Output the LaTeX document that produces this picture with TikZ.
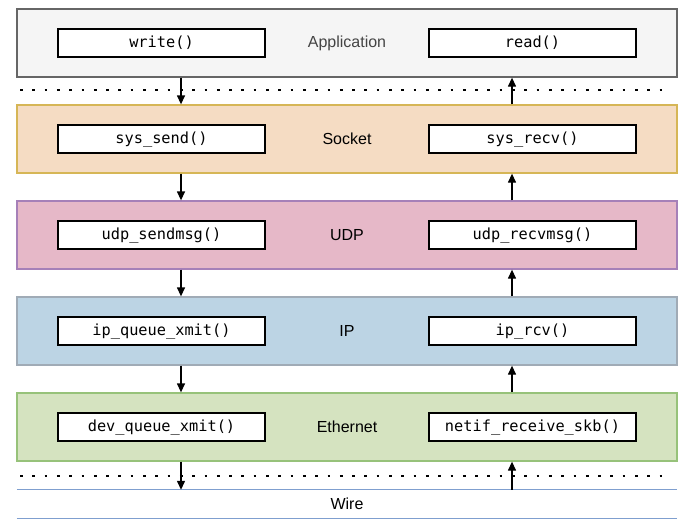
\documentclass[tikz,border=0pt]{standalone}
\usepackage{fontspec}
\setmainfont{Liberation Sans}
\setmonofont{DejaVu Sans Mono}
\usetikzlibrary{arrows.meta,positioning}

\definecolor{appfill}{HTML}{F5F5F5}
\definecolor{appline}{HTML}{666666}
\definecolor{apptext}{HTML}{444444}
\definecolor{sockfill}{HTML}{F5DCC3}
\definecolor{sockline}{HTML}{D6B656}
\definecolor{udpfill}{HTML}{E6B8C8}
\definecolor{udpline}{HTML}{A680B8}
\definecolor{ipfill}{HTML}{BCD4E4}
\definecolor{ipline}{HTML}{A0ABB6}
\definecolor{ethfill}{HTML}{D5E3C0}
\definecolor{ethline}{HTML}{97C27A}
\definecolor{wireline}{HTML}{7F9FCF}

\begin{document}
\begin{tikzpicture}[
    x=1pt,
    y=-1pt,
    >={Triangle[length=9pt, width=8pt]},
    layer/.style={draw, line width=1.3pt, minimum width=660pt, minimum height=68pt, inner sep=0pt, font=\fontsize{16}{19}\selectfont},
    func/.style={draw, fill=white, line width=1.3pt, minimum width=207pt, minimum height=28pt, inner sep=0pt, font=\ttfamily\fontsize{15.3}{18}\selectfont},
    sep/.style={line width=2.7pt, dash pattern=on 2.7pt off 9.6pt},
    line/.style={->, line width=1.3pt}
]
\useasboundingbox (0,0) rectangle (699,528);

% layers
\node[layer, fill=appfill, draw=appline, text=apptext] (app) at (347,43) {Application};
\node[layer, fill=sockfill, draw=sockline] (sock) at (347,139) {Socket};
\node[layer, fill=udpfill, draw=udpline] (udp) at (347,235) {UDP};
\node[layer, fill=ipfill, draw=ipline] (ip) at (347,331) {IP};
\node[layer, fill=ethfill, draw=ethline] (eth) at (347,427) {Ethernet};
\node[minimum width=660pt, minimum height=28pt, inner sep=0pt, font=\fontsize{16}{19}\selectfont] (wire) at (347,504) {Wire};
\draw[wireline, line width=1.3pt] (wire.north west) -- (wire.north east);
\draw[wireline, line width=1.3pt] (wire.south west) -- (wire.south east);

% send / receive functions
\node[func] (write) at (161.5,43) {write()};
\node[func] (read) at (532.5,43) {read()};
\node[func] (send) at (161.5,139) {sys\_send()};
\node[func] (recv) at (532.5,139) {sys\_recv()};
\node[func] (udpsend) at (161.5,235) {udp\_sendmsg()};
\node[func] (udprecv) at (532.5,235) {udp\_recvmsg()};
\node[func] (ipxmit) at (161.5,331) {ip\_queue\_xmit()};
\node[func] (iprcv) at (532.5,331) {ip\_rcv()};
\node[func] (devxmit) at (161.5,427) {dev\_queue\_xmit()};
\node[func] (netrecv) at (532.5,427) {netif\_receive\_skb()};

% user / kernel and kernel / wire boundaries
\coordinate (sepl) at (20,0);
\coordinate (sepr) at (668,0);
\coordinate (top) at (0,90);
\coordinate (bot) at (0,476);
\draw[sep] (top -| sepl) -- (top -| sepr);
\draw[sep] (bot -| sepl) -- (bot -| sepr);

% data path
\coordinate (dn) at (181,0);
\coordinate (up) at (512,0);
\draw[line] (app.south -| dn) -- (sock.north -| dn);
\draw[line] (sock.south -| dn) -- (udp.north -| dn);
\draw[line] (udp.south -| dn) -- (ip.north -| dn);
\draw[line] (ip.south -| dn) -- (eth.north -| dn);
\draw[line] (eth.south -| dn) -- (wire.north -| dn);
\draw[line] (wire.north -| up) -- (eth.south -| up);
\draw[line] (eth.north -| up) -- (ip.south -| up);
\draw[line] (ip.north -| up) -- (udp.south -| up);
\draw[line] (udp.north -| up) -- (sock.south -| up);
\draw[line] (sock.north -| up) -- (app.south -| up);
\end{tikzpicture}
\end{document}
